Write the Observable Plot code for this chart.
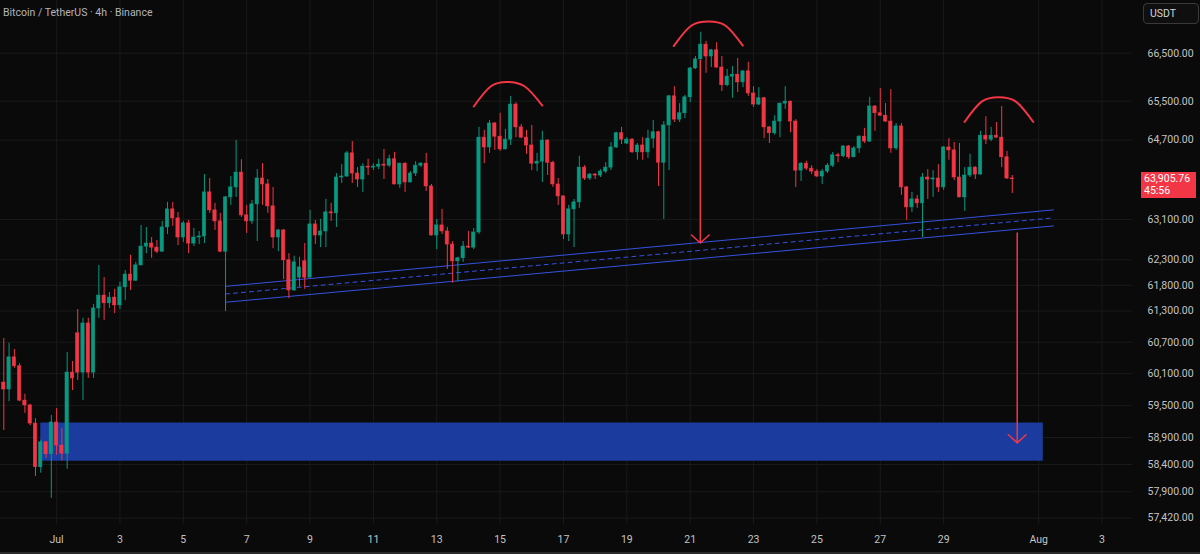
<!DOCTYPE html>
<html><head><meta charset="utf-8">
<script src="https://cdn.jsdelivr.net/npm/d3@7"></script>
<script src="https://cdn.jsdelivr.net/npm/@observablehq/plot@0.6"></script>
<style>
html,body{margin:0;padding:0;background:#0a0a0a;overflow:hidden}
#wrap{position:relative;width:1200px;height:554px;font-family:Roboto,"Liberation Sans",sans-serif}
#title{position:absolute;left:3px;top:6px;font-size:10.5px;color:#b2b5be;white-space:nowrap}
#usdt{position:absolute;left:1143px;top:3px;width:48px;height:19px;border:1px solid #3a3a3a;border-radius:4px;background:#0f0f0f;color:#d1d4dc;font-size:10.5px;line-height:19px;padding-left:6px;box-sizing:content-box}
#last{position:absolute;left:1141px;width:55px;height:26px;background:#f23645;color:#fff;font-size:10.5px;line-height:12px;padding-top:1px;box-sizing:border-box;padding-left:3px}
#bottomline{position:absolute;left:0;top:552px;width:1200px;height:2px;background:#2a2a2a}
</style></head><body><div id="wrap"></div>
<script>
const firstCandle = "2024-06-29T08:00:00Z";
const opens = [59930,59800,60410,60240,59590,59500,59160,58350,58810,58590,59180,58750,58600,60120,60870,60120,61060,60120,61350,61600,61450,61560,61410,61760,62010,61890,62190,62560,62620,62540,62460,62940,63300,63120,62740,63020,62620,62740,62760,63640,63280,63060,62460,63540,63740,64040,63180,63060,63400,63920,63800,63360,62740,62880,62290,61700,61950,62270,61950,63000,62780,62860,63240,63220,63940,63960,64430,64020,63900,64160,64140,64160,64200,64180,64310,63800,64220,63840,64020,64180,64220,63760,62780,62980,62860,62600,62270,62330,62560,62540,62840,64750,64550,65040,64770,64510,64710,65430,64960,64750,64590,64220,64260,64690,64240,63800,63560,62800,63300,63440,64140,63920,64000,63980,64060,64140,64550,64840,64630,64710,64450,64590,64450,64730,64860,64240,65000,65600,65120,65250,65580,66180,66370,66680,66430,66560,66200,65830,66010,66050,65890,66120,65660,65430,65560,64960,64840,65080,65450,65490,65080,64080,64220,64120,64060,63960,64060,64180,64390,64370,64570,64350,64530,64770,64670,65390,65250,65200,65080,64530,64980,63740,63340,63500,63420,63940,63900,63920,63740,64550,64490,63940,63540,63980,64140,64000,64790,64710,64790,64750,64350,63920];
const highs = [60770,60680,60560,60290,59710,59520,59250,58850,58830,59310,59440,59070,60500,60330,61330,61160,61160,61430,62190,61950,61660,61720,61860,62090,62390,62250,62980,62940,62740,62680,63060,63440,63440,63240,63060,63080,62920,62860,64000,63920,63420,63220,63560,63960,64690,64300,63380,63480,64100,64220,63900,63740,62900,62900,62420,62370,62350,62620,63280,63080,63100,63500,63420,64020,64200,64470,64670,64140,64220,64310,64220,64310,64510,64390,64450,64230,64240,64060,64260,64240,64430,63800,63100,63300,62940,62660,62350,62660,62860,62920,64960,64900,65100,65060,65250,64920,65600,65470,65020,64900,65000,64430,64880,64710,64270,63920,63570,63380,63500,64370,64180,64020,64020,64100,64240,64650,64860,64960,64750,64730,64630,64750,64900,65100,64880,65080,65620,65800,65450,65620,66200,66430,66940,66750,66580,66720,66430,66160,66220,66390,66130,66310,65800,65780,65580,64980,65200,65460,65800,65500,65120,64240,64270,64180,64100,64100,64220,64450,64430,64590,64590,64570,64790,64940,65580,65410,65760,65450,65740,65040,65040,63760,63640,63580,64020,64100,64080,64200,64570,64730,64650,64630,64140,64410,64160,64880,65180,64960,65060,65390,64470,63980];
const lows = [59030,59570,60200,59570,59350,59120,58180,58240,58510,57780,58570,58470,58310,59780,59970,59590,60010,60010,61160,61120,61350,61250,61330,61500,61700,61880,62180,62420,62330,62420,62450,62800,62960,62580,62640,62420,62560,62600,62620,63220,62880,62440,61290,63380,63540,63140,62820,63000,62660,63380,63220,62520,62460,61910,61540,61680,61760,61720,61940,62600,62540,62540,63060,62940,63820,63940,63820,63740,63640,63980,64080,64100,63900,64140,63790,63720,63640,63830,63960,64140,63660,62770,62500,62800,62110,61840,61870,62250,62520,62500,62800,64220,64430,64490,64470,64500,64590,64750,64730,64410,64080,64060,63840,63980,63740,63380,62700,62660,62540,63320,63880,63880,63900,63940,64020,64080,64530,64610,64610,64430,64290,64290,64330,64530,63760,63100,64080,65060,65060,65140,65470,66160,66360,66080,66200,66180,65700,65800,65560,65680,65780,65600,65370,65410,64730,64630,64800,64750,65330,64850,63740,63860,64080,64000,63940,63800,64020,64140,64240,64340,64310,64340,64430,64630,64650,64880,65190,65060,64430,64490,63580,63080,63240,63320,62740,63500,63540,63640,63680,64290,63880,63530,63260,63940,63900,63990,64610,64670,64740,64140,63900,63620];
const closes = [59800,60410,60240,59590,59500,59160,58350,58810,58590,59180,58750,58600,60120,60010,60120,61060,60120,61350,61600,61450,61560,61410,61760,62010,61890,62190,62560,62620,62540,62460,62940,63300,63120,62740,63020,62620,62740,62760,63640,63280,63060,62460,63540,63740,64040,63180,63060,63400,63920,63800,63360,62740,62880,62290,61700,62250,62150,61950,63000,62780,62860,63240,63220,63940,63960,64430,64020,63900,64160,64140,64160,64200,64180,64310,63800,64220,63840,64020,64180,64220,63760,62780,62980,62860,62600,62270,62330,62560,62540,62840,64750,64550,65040,64770,64510,64710,65430,64960,64750,64590,64220,64260,64690,64240,63800,63560,62800,63300,63440,64140,63920,64000,63980,64060,64140,64550,64840,64710,64710,64450,64590,64450,64730,64860,64240,65000,65600,65120,65250,65580,66180,66370,66680,66430,66560,66200,65830,66010,66050,65890,66120,65660,65430,65560,64960,64840,65080,65450,65490,65080,64080,64220,64120,64060,63960,64060,64180,64390,64370,64570,64350,64530,64770,64670,65390,65250,65200,65080,64530,64980,63740,63340,63500,63420,63940,63900,63920,63740,64550,64490,63940,63540,63980,64140,64000,64790,64710,64790,64750,64350,63920,63905.76];

const priceTicks = [66500,65500,64700,63100,62300,61800,61300,60700,60100,59500,58900,58400,57900,57420];
const dateTicks = ["2024-07-01","2024-07-03","2024-07-05","2024-07-07","2024-07-09","2024-07-11","2024-07-13","2024-07-15","2024-07-17","2024-07-19","2024-07-21","2024-07-23","2024-07-25","2024-07-27","2024-07-29","2024-08-01","2024-08-03"];
const dateTickLabels = ["Jul","3","5","7","9","11","13","15","17","19","21","23","25","27","29","Aug","3"];

const channelTimes = ["2024-07-06T08:00Z","2024-08-01T11:15Z"];
const channelUpper = [61780, 63290];
const channelMiddle = [61630, 63130];
const channelLower = [61470, 62970];

const arc1Times = ["2024-07-14T04:00Z","2024-07-14T17:00Z","2024-07-15T05:30Z","2024-07-15T18:30Z","2024-07-16T08:00Z"];
const arc1Prices = [65390, 65810, 65900, 65810, 65410];
const arc2Times = ["2024-07-20T11:30Z","2024-07-21T00:45Z","2024-07-21T14:10Z","2024-07-22T02:55Z","2024-07-22T15:50Z"];
const arc2Prices = [66650, 67080, 67170, 67080, 66660];
const arc3Times = ["2024-07-29T15:50Z","2024-07-30T04:50Z","2024-07-30T17:45Z","2024-07-31T06:45Z","2024-07-31T19:55Z"];
const arc3Prices = [65070, 65490, 65580, 65490, 65070];

const arrowTimes = ["2024-07-21T07:40Z","2024-07-31T07:45Z"];
const arrowFrom = [66350, 62830];
const arrowTo = [62630, 58800];

const zoneTimes = ["2024-06-30T12:00Z","2024-08-01T03:30Z"];
const zonePrices = [58460, 59170];

const lastPrice = 63905.76;
const countdown = "45:56";

const UP = "#089981", DOWN = "#f23645", GRID = "#1a1a1a";
const H = 3600e3;
const t0 = Date.parse(firstCandle);
const candles = opens.map((o, i) => ({t: new Date(t0 + i * 4 * H), o, h: highs[i], l: lows[i], c: closes[i]}));
const col = d => d.c >= d.o ? UP : DOWN;
const arcs = [[arc1Times, arc1Prices, 1], [arc2Times, arc2Prices, 2], [arc3Times, arc3Prices, 3]]
  .flatMap(([ts, ps, k]) => ts.map((t, i) => ({t: new Date(t), p: ps[i], k})));
const channel = (ps, k) => channelTimes.map((t, i) => ({t: new Date(t), p: ps[i], k}));
const arrows = arrowTimes.map((t, i) => ({t: new Date(t), a: arrowFrom[i], b: arrowTo[i]}));
const dates = dateTicks.map(d => new Date(d + "T00:00Z"));
const labelOf = new Map(dates.map((d, i) => [+d, dateTickLabels[i]]));

const chart = Plot.plot({
  width: 1200, height: 554,
  marginLeft: 0, marginRight: 68, marginTop: 0, marginBottom: 30,
  style: {background: "#0a0a0a", fontFamily: "Roboto, 'Liberation Sans', sans-serif", fontSize: "10.5px", color: "#b2b5be"},
  x: {type: "utc", domain: [new Date("2024-06-29T05:30Z"), new Date("2024-08-03T23:05Z")], axis: null, label: null},
  y: {type: "log", domain: [57304, 67616], axis: null, label: null},
  marks: [
    Plot.ruleY(priceTicks, {stroke: GRID, strokeWidth: 1}),
    Plot.ruleX(dates, {stroke: GRID, strokeWidth: 1}),
    Plot.rect([0], {x1: () => new Date(zoneTimes[0]), x2: () => new Date(zoneTimes[1]), y1: () => zonePrices[0], y2: () => zonePrices[1], fill: "#1b3b9e"}),
    Plot.line(channel(channelUpper, "u"), {x: "t", y: "p", stroke: "#3552e0", strokeWidth: 1}),
    Plot.line(channel(channelLower, "l"), {x: "t", y: "p", stroke: "#3552e0", strokeWidth: 1}),
    Plot.line(channel(channelMiddle, "m"), {x: "t", y: "p", stroke: "#3552e0", strokeWidth: 1, strokeDasharray: "4,4"}),
    Plot.ruleX(candles, {x: "t", y1: "l", y2: "h", stroke: col, strokeWidth: 1}),
    Plot.rect(candles, {x1: d => new Date(+d.t - 1.25 * H), x2: d => new Date(+d.t + 1.25 * H), y1: "o", y2: "c", fill: col, stroke: col, strokeWidth: 0.6}),
    Plot.line(arcs, {x: "t", y: "p", z: "k", stroke: "#f23645", strokeWidth: 2, curve: "natural"}),
    Plot.arrow(arrows, {x1: "t", x2: "t", y1: "a", y2: "b", stroke: "#f23645", strokeWidth: 1.5, headLength: 12, headAngle: 95}),
    Plot.axisY(priceTicks, {anchor: "right", label: null, tickSize: 0, tickPadding: 15, tickFormat: d3.format(",.2f"), fill: "#c3c3c3", fontSize: 10.5}),
    Plot.axisX(dates, {anchor: "bottom", label: null, tickSize: 0, tickPadding: 11, tickFormat: d => labelOf.get(+d), fill: "#c3c3c3", fontSize: 10.5})
  ]
});

const wrap = document.getElementById("wrap");
wrap.appendChild(chart);
const title = document.createElement("div"); title.id = "title"; title.textContent = "Bitcoin / TetherUS · 4h · Binance"; wrap.appendChild(title);
const usdt = document.createElement("div"); usdt.id = "usdt"; usdt.textContent = "USDT"; wrap.appendChild(usdt);
const last = document.createElement("div"); last.id = "last";
last.innerHTML = d3.format(",.2f")(lastPrice) + "<br>" + countdown;
last.style.top = (chart.scale("y").apply(lastPrice) - 7) + "px";
wrap.appendChild(last);
const bl = document.createElement("div"); bl.id = "bottomline"; wrap.appendChild(bl);
</script></body></html>
